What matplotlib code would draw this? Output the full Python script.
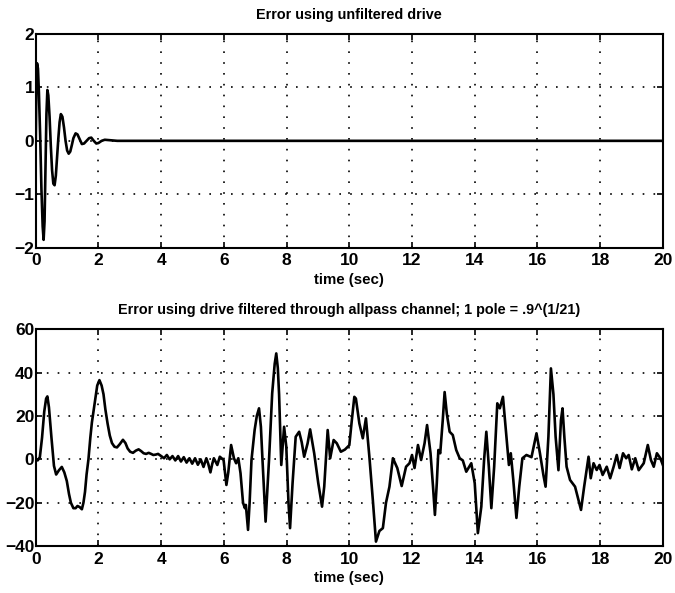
import numpy as np
import matplotlib.pyplot as plt

# =========================================================
# Error traces (time in sec)
# =========================================================
t_unfilt = [0, 0.02, 0.04, 0.07, 0.10, 0.14, 0.18, 0.22, 0.25, 0.28, 0.31, 0.34,
            0.37, 0.40, 0.44, 0.48, 0.52, 0.56, 0.60, 0.64, 0.68, 0.72, 0.76, 0.80,
            0.85, 0.90, 0.95, 1.00, 1.05, 1.10, 1.15, 1.20, 1.27, 1.33, 1.40, 1.47,
            1.54, 1.62, 1.70, 1.77, 1.85, 1.93, 2.0, 2.1, 2.2, 2.4, 2.6, 3.0, 20]
e_unfilt = [0, 1.1, 1.45, 1.35, 0.9, 0.1, -0.9, -1.6, -1.85, -1.5, -0.5, 0.5,
            0.95, 0.85, 0.45, -0.1, -0.55, -0.8, -0.83, -0.65, -0.3, 0.05, 0.35, 0.5,
            0.45, 0.25, 0.0, -0.18, -0.24, -0.2, -0.08, 0.05, 0.14, 0.12, 0.03, -0.06,
            -0.05, 0.0, 0.05, 0.06, 0.0, -0.05, -0.04, 0.0, 0.02, 0.01, 0, 0, 0]

t_allpass = [0, 0.06, 0.13, 0.2, 0.27, 0.33, 0.37, 0.42, 0.5, 0.58, 0.65, 0.74, 0.83,
             0.91, 0.99, 1.06, 1.12, 1.2, 1.27, 1.33, 1.4, 1.47, 1.52, 1.57, 1.62,
             1.68, 1.74, 1.79, 1.84, 1.89, 1.96, 2.03, 2.1, 2.16, 2.22, 2.29, 2.36,
             2.43, 2.51, 2.59, 2.68, 2.78, 2.86, 2.93, 3.01, 3.1, 3.19, 3.28, 3.36,
             3.44, 3.52, 3.6, 3.68, 3.75, 3.83, 3.9, 4.0,
             4.09, 4.18, 4.27, 4.36, 4.45, 4.54, 4.63, 4.72, 4.81, 4.9, 4.99, 5.08,
             5.17, 5.26, 5.35, 5.44, 5.5, 5.57, 5.63, 5.68, 5.79, 5.87, 5.99, 6.08,
             6.14, 6.23, 6.32, 6.39, 6.46, 6.53, 6.61, 6.67, 6.7, 6.77, 6.82, 6.88,
             6.98, 7.05, 7.12, 7.18, 7.23, 7.33, 7.44, 7.54, 7.62, 7.67, 7.72, 7.76,
             7.83, 7.92, 7.99, 8.06, 8.11, 8.19, 8.29, 8.4, 8.48, 8.56, 8.67, 8.75,
             8.88, 9.01, 9.13, 9.2, 9.31, 9.39, 9.5, 9.6, 9.73, 9.86, 10.0, 10.08,
             10.16, 10.21, 10.32, 10.43, 10.53, 10.64, 10.75, 10.85, 10.96, 11.07,
             11.17, 11.28, 11.39, 11.53, 11.67, 11.81, 11.92, 12.0, 12.08, 12.19,
             12.29, 12.4, 12.48, 12.59, 12.67, 12.73, 12.79, 12.84, 12.9, 12.98,
             13.04, 13.11, 13.2, 13.3, 13.41, 13.52, 13.62, 13.73, 13.89, 14.0,
             14.1, 14.21, 14.3, 14.37, 14.45, 14.53, 14.62, 14.72, 14.8, 14.9,
             15.01, 15.09, 15.15, 15.23, 15.33, 15.42, 15.52, 15.65, 15.81, 15.97,
             16.08, 16.19, 16.26, 16.35, 16.43, 16.51, 16.58, 16.67, 16.75, 16.8,
             16.86, 16.93, 17.04, 17.2, 17.31, 17.39, 17.49, 17.63, 17.7, 17.79,
             17.89, 17.98, 18.08, 18.21, 18.32, 18.43, 18.53, 18.62, 18.73, 18.83,
             18.91, 19.01, 19.12, 19.23, 19.39, 19.52, 19.62, 19.71, 19.81, 19.92,
             20.0]
e_allpass = [0, -0.5, 1, 10, 22, 28, 29, 24, 10, -3, -7, -5, -3.5,
             -6, -10, -16, -20, -22.5, -22.5, -21.5, -22, -23, -20, -15, -7,
             0, 10, 17, 22, 27, 34, 36.5, 34, 30, 23, 16.5, 11,
             7.5, 5.8, 5.5, 7, 9, 7.5, 5, 3.5, 3, 4, 4.6, 3.8,
             2.8, 2.5, 3, 2.5, 2, 2.2, 2.5, 1.5,
             0.5, 2, 0, 1.5, -0.5, 1.5, -1, 1, -1.5, 0.5, -2, 0.5,
             -2.5, 0, -3.5, 0.5, -2, -6, -2, 0.5, -2.6, 1.2, -0.3, -11.8,
             -6, 6.6, 0.5, -1.8, 0.5, -6.4, -20, -22.5, -21, -32.5, -20, -0.3,
             13.5, 20, 23.5, 15, 0, -28.7, 0, 30.4, 44, 48.8, 42, 30,
             -2.6, 15, 5.8, -20, -31.7, -11, 10.4, 12.7, 8, 1.2, 7.4, 13.8,
             2.8, -11, -21.8, -12.6, 13.5, 0.5, 8.9, 7.4, 3.5, 4.5, 6.5, 18,
             28.8, 28, 16.6, 9.7, 18.9, 1.2, -18.7, -37.9, -33, -31.7,
             -20, -12.6, 0.5, -4, -12.3, -3.4, -1.8, 2, -4, 6.6,
             -0.3, 7.4, 15.8, 2.8, -12.6, -25.6, -11, 4.3, 2.8, 18,
             31, 21, 12.7, 11.2, 4.3, 0.5, -0.5, -5.7, -1.8, -11,
             -34, -21.8, 0, 12.7, -3.4, -22.5, -3.4, 25.8, 23.5, 28.8,
             10.4, -2.6, 2.8, -9.5, -27, -12.6, 0.5, 2, 1, 12,
             2.8, -7.2, -12.6, 10.4, 41.9, 30, 10.4, -5, 18, 23.5,
             10, -3.4, -9.5, -12.6, -18.7, -23.3, -12.6, 1.2, -8.7, -1.8,
             -4.9, -2.6, -7.2, -3.4, -8.7, -3.4, 2, -4, 2.8, 0.5,
             2, -4.6, 0.5, -5, -1.8, 6.6, -0.3, -3.4, 2.8, 0.5,
             -2.6]

title_top = "Error using unfiltered drive"
title_bottom = "Error using drive filtered through allpass channel; 1 pole = .9^(1/21)"

# =========================================================
# Plot
# =========================================================
plt.rcParams['font.family'] = ['Liberation Sans', 'DejaVu Sans']
plt.rcParams['font.weight'] = 'bold'

fig = plt.figure(figsize=(6.75, 5.93), dpi=100)
ax1 = fig.add_axes([0.053, 0.582, 0.929, 0.361])
ax2 = fig.add_axes([0.053, 0.079, 0.929, 0.366])

for ax, t, e, ttl, yl, yt in [
        (ax1, t_unfilt, e_unfilt, title_top, (-2, 2), np.arange(-2, 3, 1)),
        (ax2, t_allpass, e_allpass, title_bottom, (-40, 60), np.arange(-40, 61, 20))]:
    ax.plot(t, e, color='black', lw=1.9, solid_joinstyle='round')
    ax.set_xlim(0, 20)
    ax.set_ylim(*yl)
    ax.set_xticks(np.arange(0, 21, 2))
    ax.set_yticks(yt)
    ax.grid(True, color='black', linestyle=(0, (1, 5.5)), linewidth=1.2)
    ax.tick_params(direction='in', length=4, width=1.2, labelsize=12.5,
                   top=True, right=True)
    ax.tick_params(axis='x', pad=4)
    ax.tick_params(axis='y', pad=1)
    for lbl in ax.get_xticklabels() + ax.get_yticklabels():
        lbl.set_fontweight('bold')
    for s in ax.spines.values():
        s.set_linewidth(1.5)
    ax.set_title(ttl, fontsize=10.4, fontweight='bold', pad=11)
    ax.set_xlabel("time (sec)", fontsize=10.8, fontweight='bold', labelpad=3)

fig.savefig("out.png", dpi=100)
